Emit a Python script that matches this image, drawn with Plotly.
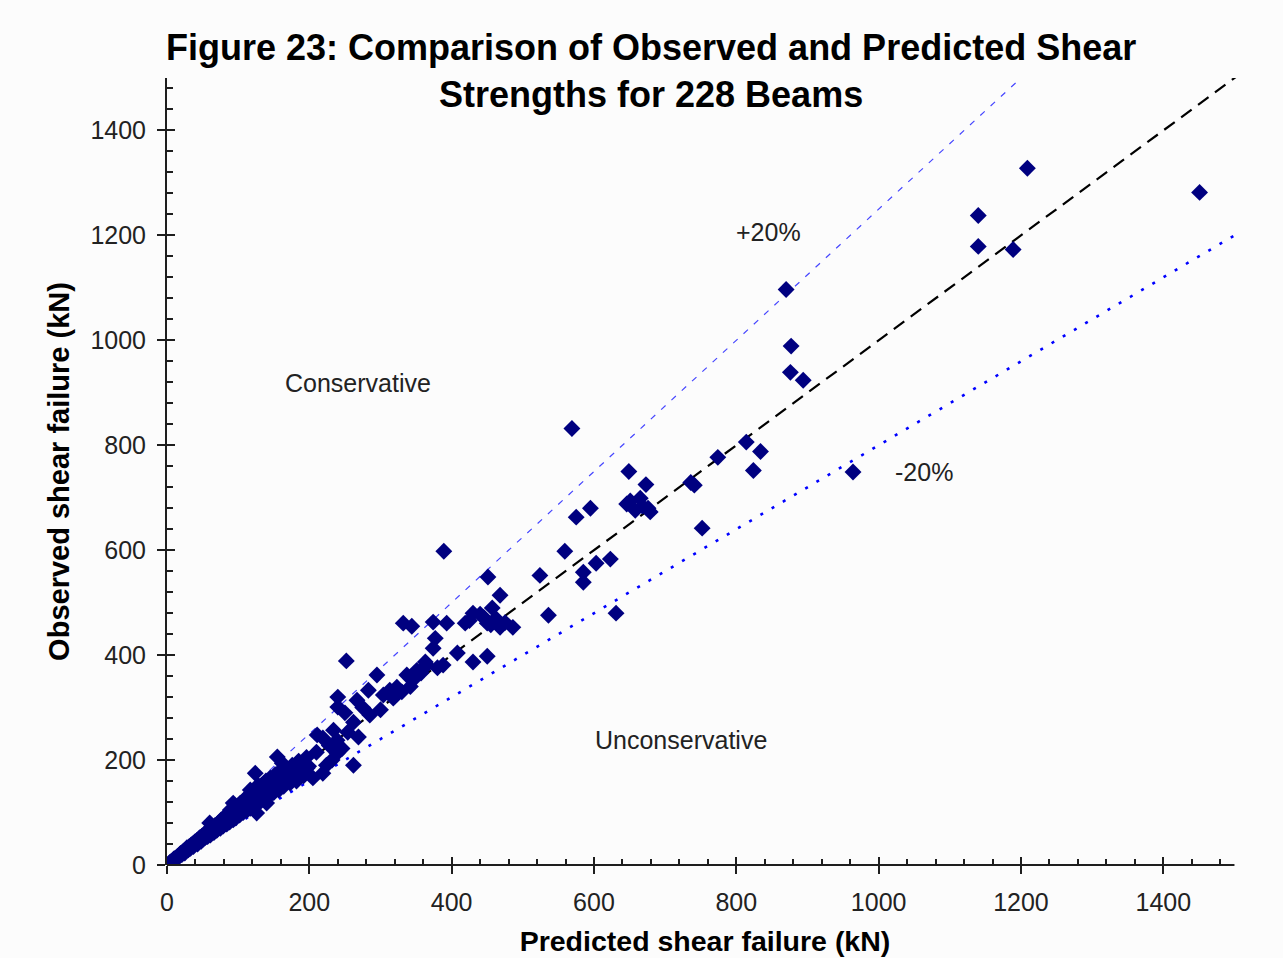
import plotly.graph_objects as go

# Predicted vs observed shear capacity of the 228 test beams (kN)
predicted_kN = [
    # large beams
    1451, 1209, 1140, 1140, 1189, 870, 877, 876, 894, 569, 814, 834, 824, 964, 774,
    649, 673, 646, 665, 676, 658, 679, 741, 736, 752, 595, 575, 559, 603, 623, 585,
    585, 536, 631, 524, 651, 668,
    # 300 - 500 kN
    389, 451, 468, 430, 457, 450, 468, 486, 419, 332, 344, 374, 393, 377, 374, 408,
    450, 430, 363, 388, 365, 351, 337, 323, 313, 304, 440, 445, 462, 475, 455, 425,
    348, 330, 357, 380, 342, 318,
    # 200 - 300 kN
    252, 295, 283, 267, 240, 240, 285, 262, 234, 211, 219, 239, 254, 269, 262, 232,
    239, 219, 205, 197, 190, 275, 250, 228, 246, 210, 224, 300,
    # small beams
    4, 6, 7, 9, 10, 12, 13, 15, 16, 18, 19, 21, 22, 24, 25, 27, 28, 30, 31, 33,
    34, 36, 37, 39, 40, 42, 43, 45, 46, 48, 49, 51, 52, 54, 55, 57, 58, 60, 61, 63,
    64, 66, 67, 69, 70, 72, 73, 75, 76, 78, 79, 81, 82, 84, 85, 87, 88, 90, 91, 93,
    94, 96, 97, 99, 100, 102, 103, 105, 107, 108, 110, 112, 113, 115, 117, 118, 120,
    122, 123, 125, 127, 128, 130, 132, 133, 135, 137, 139, 141, 143, 145, 147, 150,
    152, 154, 157, 159, 161, 164, 167, 170, 173, 176, 179, 182, 185, 188, 192, 196,
    199,
    124, 128, 117, 110, 148, 163, 135, 126, 155, 162, 156, 93, 89, 60, 140,
]

observed_kN = [
    1282, 1328, 1238, 1179, 1173, 1097, 989, 939, 924, 832, 806, 788, 752, 749, 777,
    750, 725, 688, 699, 680, 676, 673, 724, 729, 642, 680, 663, 598, 575, 583, 558,
    539, 476, 480, 552, 694, 684,
    598, 549, 514, 480, 490, 461, 453, 453, 461, 461, 455, 463, 461, 432, 413, 404,
    398, 387, 387, 381, 381, 371, 362, 339, 333, 324, 478, 472, 470, 462, 458, 466,
    356, 330, 366, 376, 340, 318,
    389, 362, 333, 314, 320, 301, 286, 272, 257, 248, 242, 238, 253, 244, 190, 200,
    213, 175, 166, 185, 194, 300, 290, 228, 222, 215, 190, 296,
    5, 7, 6, 10, 12, 13, 11, 17, 15, 20, 22, 20, 25, 27, 23, 30, 33, 29, 35, 32,
    38, 40, 35, 44, 41, 47, 40, 50, 52, 45, 55, 50, 58, 53, 62, 54, 66, 61, 57, 70,
    66, 62, 75, 71, 66, 80, 76, 70, 86, 79, 74, 92, 84, 78, 96, 90, 82, 104, 94, 86,
    108, 99, 90, 112, 103, 95, 118, 108, 100, 124, 113, 104, 129, 119, 108, 135, 124,
    113, 142, 130, 117, 147, 134, 122, 152, 140, 126, 160, 145, 131, 166, 150, 138,
    172, 157, 143, 178, 163, 150, 184, 170, 156, 190, 175, 160, 198, 182, 170, 205,
    188,
    175, 152, 143, 124, 162, 162, 137, 99, 206, 194, 175, 118, 105, 80, 118,
]

# Reference lines: observed = predicted, and the +/-20 % bands
equal_x = [0, 1510]
equal_y = [0, 1510]
upper_x = [0, 1200]
upper_y = [0, 1500]
lower_x = [0, 1510]
lower_y = [0, 1208]

x_ticks = [0, 200, 400, 600, 800, 1000, 1200, 1400]
y_ticks = [0, 200, 400, 600, 800, 1000, 1200, 1400]
minor_step = 40

X_MAX = 1512
Y_MAX = 1500
AXIS_COLOR = "#1e1e1e"
FONT = "Liberation Sans"

x_minor = [v for v in range(minor_step, 1500, minor_step) if v % 200]
y_minor = [v for v in range(minor_step, 1500, minor_step) if v % 200]

fig = go.Figure()

fig.add_trace(go.Scatter(
    x=equal_x, y=equal_y, mode="lines",
    line=dict(color="#000000", width=2.2, dash="13px,8px"),
    hoverinfo="skip",
))
fig.add_trace(go.Scatter(
    x=upper_x, y=upper_y, mode="lines",
    line=dict(color="#4646ff", width=1.2, dash="6px,8px"),
    hoverinfo="skip",
))
fig.add_trace(go.Scatter(
    x=lower_x, y=lower_y, mode="lines",
    line=dict(color="#0000ff", width=2.6, dash="3px,10px"),
    hoverinfo="skip",
))
fig.add_trace(go.Scatter(
    x=predicted_kN, y=observed_kN, mode="markers",
    marker=dict(symbol="diamond", size=13, color="#000080",
                line=dict(width=0)),
    name="Beams",
))
# empty trace that carries the inner halves of the major ticks
fig.add_trace(go.Scatter(x=[], y=[], xaxis="x2", yaxis="y2",
                         mode="markers", hoverinfo="skip"))

tick_font = dict(family=FONT, size=25, color="#222222")

fig.update_layout(
    width=1283, height=958,
    margin=dict(l=167, r=40, t=78, b=93),
    paper_bgcolor="#fcfcfc",
    plot_bgcolor="#fcfcfc",
    showlegend=False,
    title=dict(
        text="<b>Figure 23: Comparison of Observed and Predicted Shear<br>"
             "Strengths for 228 Beams</b>",
        font=dict(family=FONT, size=36, color="#000000"),
        x=0.5075, xanchor="center", xref="container",
        y=1 - 60 / 958, yanchor="top", yref="container",
    ),
    xaxis=dict(
        range=[0, X_MAX], tickmode="array", tickvals=x_ticks,
        ticks="outside", ticklen=8, tickwidth=2, tickcolor=AXIS_COLOR,
        minor=dict(tickmode="array", tickvals=x_minor, ticks="inside",
                   ticklen=6, tickwidth=2, tickcolor=AXIS_COLOR),
        showline=False, showgrid=False, zeroline=False,
        tickfont=tick_font, ticklabelstandoff=7,
        title=dict(text="<b>Predicted shear failure (kN)</b>",
                   font=dict(family=FONT, size=28.5, color="#000000"),
                   standoff=16),
        automargin=False,
    ),
    yaxis=dict(
        range=[0, Y_MAX], tickmode="array", tickvals=y_ticks,
        ticks="outside", ticklen=8, tickwidth=2, tickcolor=AXIS_COLOR,
        minor=dict(tickmode="array", tickvals=y_minor, ticks="inside",
                   ticklen=6, tickwidth=2, tickcolor=AXIS_COLOR),
        showline=True, linecolor=AXIS_COLOR, linewidth=2,
        showgrid=False, zeroline=False,
        tickfont=tick_font, ticklabelstandoff=6,
        title=dict(text="<b>Observed shear failure (kN)</b>",
                   font=dict(family=FONT, size=29, color="#000000"),
                   standoff=12),
        automargin=False,
    ),
    xaxis2=dict(
        overlaying="x", matches="x", range=[0, X_MAX], tickmode="array",
        tickvals=x_ticks, ticks="inside", ticklen=8, tickwidth=2,
        tickcolor=AXIS_COLOR, showticklabels=False, showline=False,
        showgrid=False, zeroline=False,
    ),
    yaxis2=dict(
        overlaying="y", matches="y", range=[0, Y_MAX], tickmode="array",
        tickvals=y_ticks, ticks="inside", ticklen=8, tickwidth=2,
        tickcolor=AXIS_COLOR, showticklabels=False, showline=False,
        showgrid=False, zeroline=False,
    ),
)

# x-axis baseline stops at 1500 kN
fig.add_shape(type="line", xref="x", yref="paper", x0=0, x1=1500, y0=0, y1=0,
              line=dict(color=AXIS_COLOR, width=2), layer="above")

label_font = dict(family=FONT, size=25, color="#222222")
for txt, ax, ay in [("+20%", 845, 1206), ("-20%", 1064, 749),
                    ("Conservative", 268, 918), ("Unconservative", 722, 238)]:
    fig.add_annotation(x=ax, y=ay, text=txt, showarrow=False, font=label_font,
                       xanchor="center", yanchor="middle")

fig.write_html("out.html")
